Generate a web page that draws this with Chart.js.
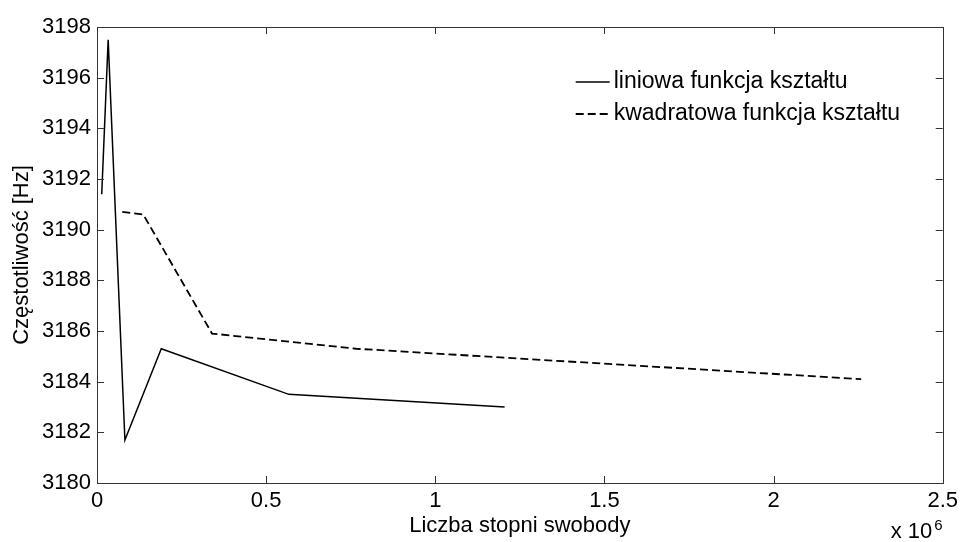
<!DOCTYPE html>
<html>
<head>
<meta charset="utf-8">
<script src="https://cdn.jsdelivr.net/npm/chart.js@4.4.1/dist/chart.umd.min.js"></script>
<style>
  html, body { margin: 0; padding: 0; background: #fff; }
</style>
</head>
<body>
<canvas id="chart" width="963" height="542"></canvas>
<script>
// Values (x in degrees of freedom, y in Hz)
const linearDof = [14000, 33000, 82500, 190000, 567000, 1205000];
const linearFreq = [3191.4, 3197.5, 3181.7, 3185.3, 3183.5, 3183.0];
const quadDof = [74700, 136600, 340000, 766000, 2259000];
const quadFreq = [3190.7, 3190.6, 3185.9, 3185.3, 3184.1];
const seriesLabels = ['liniowa funkcja kształtu', 'kwadratowa funkcja kształtu'];
const xTitle = 'Liczba stopni swobody';
const yTitle = 'Częstotliwość [Hz]';

const FONT = "'Liberation Sans', Arial, Helvetica, sans-serif";
const AXIS_COLOR = '#333';

function toPoints(xs, ys) {
    return xs.map((x, i) => ({ x: x, y: ys[i] }));
}

// MATLAB-like box with inward ticks on all four sides + the x10^6 multiplier
const boxPlugin = {
    id: 'matlabBox',
    afterDraw(chart) {
        const { ctx, chartArea: a, scales: { x, y } } = chart;
        const len = 7;
        ctx.save();
        ctx.strokeStyle = AXIS_COLOR;
        ctx.lineWidth = 1;
        ctx.strokeRect(Math.round(a.left) + 0.5, Math.round(a.top) + 0.5,
            Math.round(a.right - a.left), Math.round(a.bottom - a.top));
        ctx.beginPath();
        x.ticks.forEach(t => {
            const px = Math.round(x.getPixelForValue(t.value)) + 0.5;
            ctx.moveTo(px, a.bottom); ctx.lineTo(px, a.bottom - len);
            ctx.moveTo(px, a.top); ctx.lineTo(px, a.top + len);
        });
        y.ticks.forEach(t => {
            const py = Math.round(y.getPixelForValue(t.value)) + 0.5;
            ctx.moveTo(a.left, py); ctx.lineTo(a.left + len, py);
            ctx.moveTo(a.right, py); ctx.lineTo(a.right - len, py);
        });
        ctx.stroke();

        ctx.fillStyle = '#000';
        ctx.textAlign = 'left';
        ctx.textBaseline = 'alphabetic';
        ctx.font = '22px ' + FONT;
        ctx.fillText('x 10', a.right - 52, a.bottom + 55);
        ctx.font = '15px ' + FONT;
        ctx.fillText('6', a.right - 8.5, a.bottom + 47);
        ctx.restore();
    }
};

// Legend drawn inside the plot, top right, without a frame
const insideLegend = {
    id: 'insideLegend',
    afterDraw(chart) {
        const { ctx, chartArea: a } = chart;
        const x0 = a.right - 367;
        const rows = [a.top + 55, a.top + 87];
        ctx.save();
        chart.data.datasets.forEach((ds, i) => {
            const yy = rows[i];
            ctx.strokeStyle = ds.borderColor;
            ctx.lineWidth = ds.borderWidth;
            ctx.setLineDash(ds.borderDash || []);
            ctx.beginPath();
            ctx.moveTo(x0, yy);
            ctx.lineTo(x0 + 34, yy);
            ctx.stroke();
            ctx.setLineDash([]);
            ctx.fillStyle = '#000';
            ctx.font = '23px ' + FONT;
            ctx.textAlign = 'left';
            ctx.textBaseline = 'middle';
            ctx.fillText(ds.label, x0 + 38, yy);
        });
        ctx.restore();
    }
};

new Chart(document.getElementById('chart'), {
    type: 'line',
    data: {
        datasets: [
            {
                label: seriesLabels[0],
                data: toPoints(linearDof, linearFreq),
                borderColor: '#000',
                borderWidth: 1.5,
                pointRadius: 0,
                fill: false,
                tension: 0
            },
            {
                label: seriesLabels[1],
                data: toPoints(quadDof, quadFreq),
                borderColor: '#000',
                borderWidth: 1.8,
                borderDash: [8, 4],
                pointRadius: 0,
                fill: false,
                tension: 0
            }
        ]
    },
    options: {
        responsive: false,
        animation: false,
        devicePixelRatio: 1,
        layout: { padding: { top: 27, right: 18, left: 0, bottom: 0 } },
        plugins: {
            legend: { display: false },
            tooltip: { enabled: false }
        },
        scales: {
            x: {
                type: 'linear',
                min: 0,
                max: 2500000,
                grid: { display: false, drawTicks: false, tickLength: 0 },
                border: { display: false },
                ticks: {
                    stepSize: 500000,
                    autoSkip: false,
                    maxRotation: 0,
                    padding: 5,
                    color: '#000',
                    font: { family: FONT, size: 22 },
                    callback: v => String(v / 1e6)
                },
                title: {
                    display: true,
                    text: xTitle,
                    color: '#000',
                    padding: 3,
                    font: { family: FONT, size: 22, lineHeight: 1.2 }
                },
                afterFit: scale => { scale.height = 59; }
            },
            y: {
                min: 3180,
                max: 3198,
                grid: { display: false, drawTicks: false, tickLength: 0 },
                border: { display: false },
                ticks: {
                    stepSize: 2,
                    autoSkip: false,
                    padding: 6,
                    color: '#000',
                    font: { family: FONT, size: 22 },
                    callback: v => String(v)
                },
                title: {
                    display: true,
                    text: yTitle,
                    color: '#000',
                    padding: 9,
                    font: { family: FONT, size: 22, lineHeight: 1.2 }
                },
                afterFit: scale => { scale.width = 97; }
            }
        }
    },
    plugins: [boxPlugin, insideLegend]
});
</script>
</body>
</html>
